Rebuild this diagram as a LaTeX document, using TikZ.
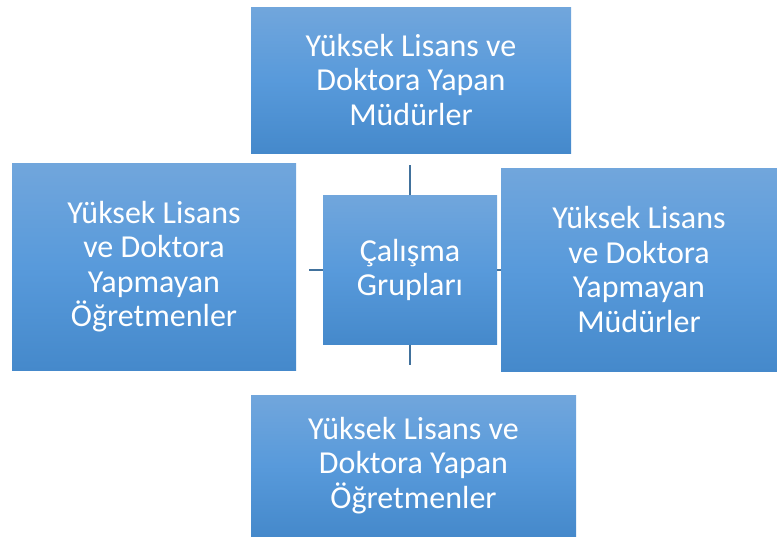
\documentclass[tikz,border=0pt]{standalone}
\usepackage{fontspec}
\setmainfont{Carlito}
\definecolor{boxtop}{RGB}{113,166,220}
\definecolor{boxmid}{RGB}{88,154,219}
\definecolor{boxbot}{RGB}{69,137,203}
\definecolor{linkblue}{RGB}{65,113,156}
\tikzset{
  box/.style={rectangle, inner sep=0pt, top color=boxtop, bottom color=boxbot, middle color=boxmid,
    text=white, align=center, font=\fontsize{32}{34.5}\selectfont},
  link/.style={draw=linkblue, line width=2pt}
}
\begin{document}
\begin{tikzpicture}[x=1pt,y=-1pt]
\useasboundingbox (0,0) rectangle (777,536);
\node[box, minimum width=320pt, minimum height=146pt] (t) at (411,80) {Yüksek Lisans ve\\Doktora Yapan\\Müdürler};
\node[box, minimum width=174pt, minimum height=149pt] (c) at (410,270) {Çalışma\\Grupları};
\node[box, minimum width=284pt, minimum height=207pt] (l) at (154,266.5) {Yüksek Lisans\\ve Doktora\\Yapmayan\\Öğretmenler};
\node[box, minimum width=276pt, minimum height=203pt] (r) at (639,269.5) {Yüksek Lisans\\ve Doktora\\Yapmayan\\Müdürler};
\node[box, minimum width=325pt, minimum height=141pt] (b) at (413.5,465.5) {Yüksek Lisans ve\\Doktora Yapan\\Öğretmenler};
\draw[link, shorten >=12pt] (c.north) -- (c.north |- t.south);
\draw[link, shorten >=30pt] (c.south) -- (c.south |- b.north);
\draw[link, shorten >=13pt] (c.west) -- (c.west -| l.east);
\draw[link] (c.east) -- (c.east -| r.west);
\end{tikzpicture}
\end{document}
